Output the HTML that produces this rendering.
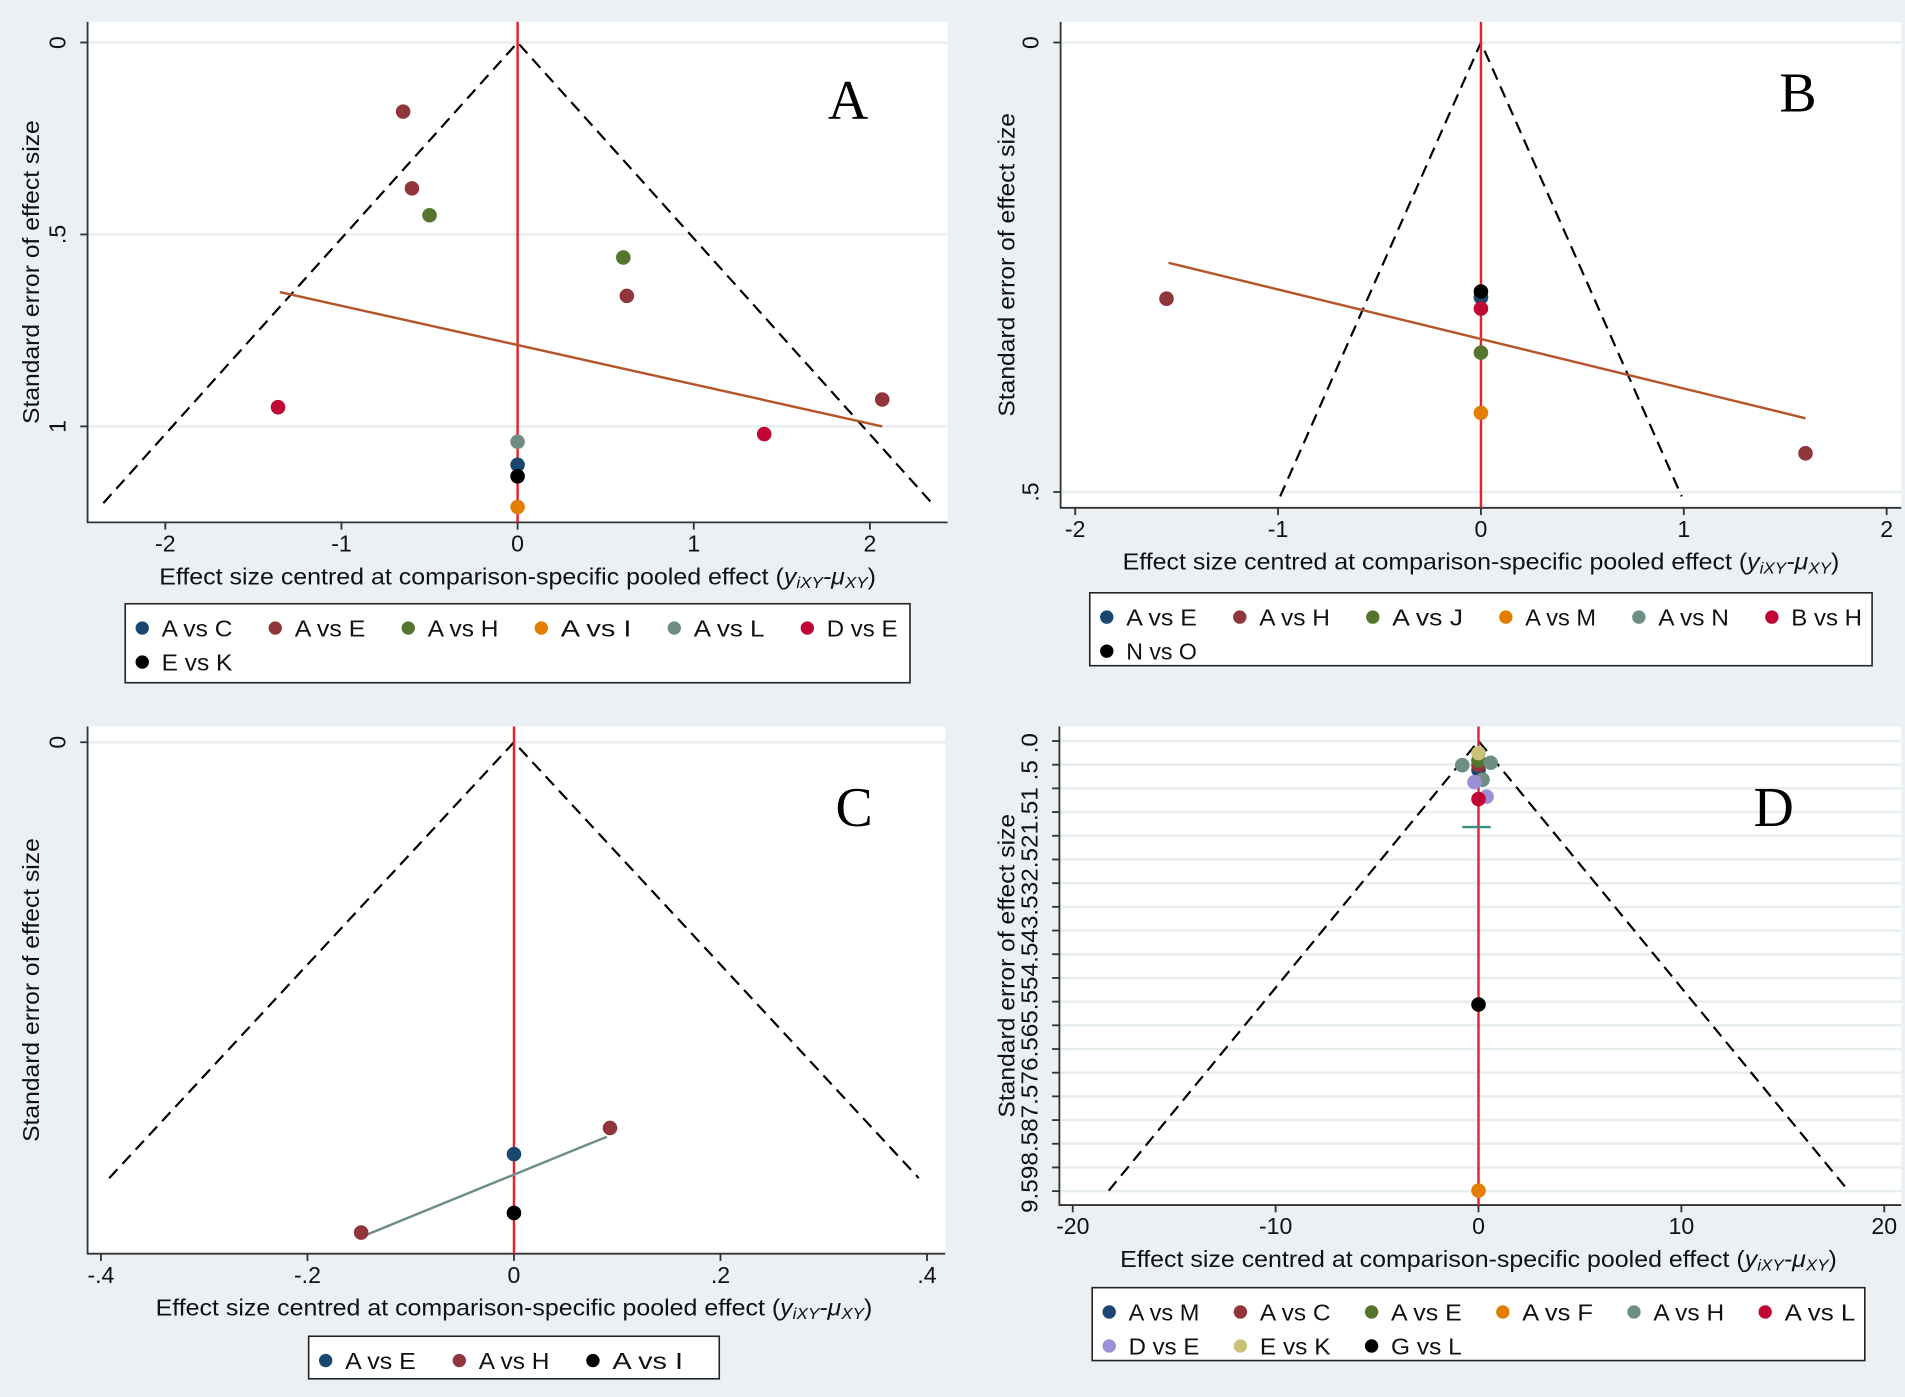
<!DOCTYPE html>
<html><head><meta charset="utf-8"><style>
html,body{margin:0;padding:0;background:#eaf0f3;}
svg{display:block;font-family:"Liberation Sans",Arial,sans-serif;}
</style></head><body>
<svg id="s" width="1905" height="1397" viewBox="0 0 1568 1150" xmlns="http://www.w3.org/2000/svg"></svg>
<script>
// ===== Panel A data =====
const aSeries = ["A vs C","A vs E","A vs H","A vs I","A vs L","D vs E","E vs K"];
const aColors = ["#1a476f","#90353b","#55752f","#e37e00","#6e8e84","#c10534","#000000"];
const aPtSeries = [1,1,1,1,2,2,5,5,4,0,6,3];
const aPtX  = [-0.65,-0.60,0.62,2.07,-0.50,0.60,-1.36,1.40,0,0,0,0];
const aPtSE = [0.18,0.38,0.66,0.93,0.45,0.56,0.95,1.02,1.04,1.10,1.13,1.21];
const aReg = [[-1.35,0.65],[2.07,1.0]];
const aXTicks = [-2,-1,0,1,2];
const aYTicks = [0,0.5,1];
const aYLabels = ["0",".5","1"];
// ===== Panel B data =====
const bSeries = ["A vs E","A vs H","A vs J","A vs M","A vs N","B vs H","N vs O"];
const bColors = ["#1a476f","#90353b","#55752f","#e37e00","#6e8e84","#c10534","#000000"];
const bPtSeries = [1,1,4,0,5,2,3,6];
const bPtX  = [-1.55,1.60,0,0,0,0,0,0];
const bPtSE = [0.285,0.457,0.284,0.283,0.296,0.345,0.412,0.277];
const bReg = [[-1.54,0.245],[1.6,0.418]];
const bXTicks = [-2,-1,0,1,2];
const bYTicks = [0,0.5];
const bYLabels = ["0",".5"];
// ===== Panel C data =====
const cSeries = ["A vs E","A vs H","A vs I"];
const cColors = ["#1a476f","#90353b","#000000"];
const cPtSeries = [0,1,1,2];
const cPtX  = [0,0.093,-0.148,0];
const cPtSE = [0.189,0.177,0.225,0.216];
const cReg = [[-0.148,0.227],[0.09,0.181]];
const cXTicks = [-0.4,-0.2,0,0.2,0.4];
const cXLabels = ["-.4","-.2","0",".2",".4"];
// ===== Panel D data =====
const dSeries = ["A vs M","A vs C","A vs E","A vs F","A vs H","A vs L","D vs E","E vs K","G vs L"];
const dColors = ["#1a476f","#90353b","#55752f","#e37e00","#6e8e84","#c10534","#9c8fd6","#c8c27a","#000000"];
const dPtSeries = [0,1,2,7,4,4,4,6,6,5,8,3];
const dPtX  = [0,0,0,0,-0.8,0.6,0.2,-0.2,0.4,0,0,0];
const dPtSE = [0.6,0.5,0.4,0.25,0.5,0.45,0.8,0.85,1.15,1.2,5.45,9.3];
const dTeal = [[-0.8,1.78],[0.6,1.78]];
const dXTicks = [-20,-10,0,10,20];

const S = document.getElementById('s');
const NS = "http://www.w3.org/2000/svg";
function mk(tag, attrs, parent, text){
  const e = document.createElementNS(NS, tag);
  for (const k in attrs) e.setAttribute(k, attrs[k]);
  if (text !== undefined) e.textContent = text;
  (parent||S).appendChild(e);
  return e;
}

function panel(cfg){
  const g = mk('g', {});
  
  
  const X = v => cfg.x0 + v*cfg.xs;
  const Y = v => cfg.y0 + v*cfg.ys;
  const bg = mk('rect', {x:cfg.L, y:cfg.T, width:cfg.R-cfg.L, height:cfg.B-cfg.T, fill:'#fff'}, g);
  
  
  (cfg.grid||[]).forEach(v=>{
    const l = mk('line', {x1:cfg.L, x2:cfg.R, y1:Y(v), y2:Y(v), stroke:'#e6eef1', 'stroke-width':2}, g);
    
    
  });
  const ax = mk('path', {d:`M${cfg.L} ${cfg.T} V${cfg.B} H${cfg.R}`, stroke:'#333', 'stroke-width':1.5, fill:'none'}, g);
  
  
  cfg.xTicks.forEach((v,i)=>{
    mk('line', {x1:X(v), x2:X(v), y1:cfg.B, y2:cfg.B+6, stroke:'#333', 'stroke-width':1.5}, g);
    const t = mk('text', {x:X(v), y:cfg.B+24, 'text-anchor':'middle', 'font-size':19, fill:'#111'}, g, cfg.xLabels?cfg.xLabels[i]:String(v));
    
    
  });
  (cfg.yTicks||[]).forEach((v,i)=>{
    mk('line', {x1:cfg.L-6, x2:cfg.L, y1:Y(v), y2:Y(v), stroke:'#333', 'stroke-width':1.5}, g);
    if (cfg.yLabels){
      const t = mk('text', {x:cfg.L-18, y:Y(v), 'text-anchor':'middle', 'font-size':19, fill:'#111', transform:`rotate(-90 ${cfg.L-18} ${Y(v)})`}, g, cfg.yLabels[i]);
      
      
    }
  });
  if (cfg.yLabelStr){
    const cx = cfg.L-18, cy = (cfg.T+cfg.B)/2+6;
    const t = mk('text', {x:cx, y:cy, 'text-anchor':'middle', 'font-size':19, fill:'#111', textLength:395, lengthAdjust:'spacingAndGlyphs', transform:`rotate(-90 ${cx} ${cy})`}, g, cfg.yLabelStr);
    
    
  }
  const xt = mk('text', {x:cfg.xtX, y:cfg.B+51, 'text-anchor':'middle', 'font-size':19, fill:'#111', textLength:590, lengthAdjust:'spacingAndGlyphs'}, g);
  
  
  xt.appendChild(document.createTextNode('Effect size centred at comparison-specific pooled effect ('));
  mk('tspan', {'font-style':'italic'}, xt, 'y');
  mk('tspan', {'font-style':'italic','font-size':13, dy:3}, xt, 'iXY');
  mk('tspan', {'font-style':'italic', dy:-3}, xt, '-μ');
  mk('tspan', {'font-style':'italic','font-size':13, dy:3}, xt, 'XY');
  mk('tspan', {dy:-3}, xt, ')');
  const yx = cfg.ytX, yy = (cfg.T+cfg.B)/2;
  const yt = mk('text', {x:yx, y:yy, 'text-anchor':'middle', 'font-size':19, fill:'#111', textLength:250, lengthAdjust:'spacingAndGlyphs', transform:`rotate(-90 ${yx} ${yy})`}, g, 'Standard error of effect size');
  
  
  const fb = cfg.funnelSE, fx = 1.96*fb;
  const fn = mk('path', {d:`M${X(-fx)} ${Y(fb)} L${X(0)} ${Y(0)} L${X(fx)} ${Y(fb)}`, stroke:'#000', 'stroke-width':1.8, fill:'none', 'stroke-dasharray':'10,6'}, g);
  
  
  const zl = mk('line', {x1:X(0), x2:X(0), y1:cfg.T, y2:cfg.B, stroke:'#e8202a', 'stroke-width':2}, g);
  
  
  if (cfg.reg){
    const r = mk('line', {x1:X(cfg.reg[0][0]), y1:Y(cfg.reg[0][1]), x2:X(cfg.reg[1][0]), y2:Y(cfg.reg[1][1]), stroke:cfg.regColor, 'stroke-width':2}, g);
    
    
  }
  cfg.px.forEach((v,i)=>{
    const c = mk('circle', {cx:X(v), cy:Y(cfg.pse[i]), r:6, fill:cfg.colors[cfg.ps[i]]}, g);
    
    
  });
  if (cfg.extra) cfg.extra(g, X, Y);
  const lt = mk('text', {x:cfg.letterX, y:cfg.letterY, 'text-anchor':'middle', 'font-size':46, 'font-family':'"Liberation Serif",serif', fill:'#000'}, g, cfg.letter);
  
  
  const lg = mk('g', {}, g);
  
  
  const lb = cfg.leg;
  mk('rect', {x:lb.x, y:lb.y, width:lb.w, height:lb.h, fill:'#fff', stroke:'#222', 'stroke-width':1.3}, lg);
  cfg.series.forEach((s,i)=>{
    const row = Math.floor(i/lb.per), col = i%lb.per;
    const ex = lb.x+14+col*lb.colW, ey = lb.y+20+row*28;
    const e = mk('g', {}, lg);
    
    
    mk('circle', {cx:ex, cy:ey, r:5.5, fill:cfg.colors[i]}, e);
    mk('text', {x:ex+16, y:ey+7, 'font-size':19, fill:'#111', textLength:s.length*9.7, lengthAdjust:'spacingAndGlyphs'}, e, s);
  });
}

panel({name:'panel-a', letter:'A', letterX:698, letterY:98, L:72, R:780, T:18, B:430,
  x0:426, xs:145, y0:35, ys:316, xTicks:aXTicks, yTicks:aYTicks, yLabels:aYLabels, grid:aYTicks,
  ytX:32, xtX:426, funnelSE:1.2, reg:aReg, regColor:'#b5562a',
  px:aPtX, pse:aPtSE, ps:aPtSeries, series:aSeries, colors:aColors,
  leg:{x:103,y:497,w:646,h:65,per:6,colW:109.5}});
panel({name:'panel-b', letter:'B', letterX:1480, letterY:92, L:873, R:1565, T:18, B:418,
  x0:1219, xs:167, y0:35, ys:740, xTicks:bXTicks, yTicks:bYTicks, yLabels:bYLabels, grid:bYTicks,
  ytX:835, xtX:1219, funnelSE:0.505, reg:bReg, regColor:'#b5562a',
  px:bPtX, pse:bPtSE, ps:bPtSeries, series:bSeries, colors:bColors,
  leg:{x:897,y:488,w:644,h:60,per:6,colW:109.5}});
panel({name:'panel-c', letter:'C', letterX:703, letterY:680, L:72, R:778, T:598, B:1032,
  x0:423, xs:850, y0:611, ys:1794, xTicks:cXTicks, xLabels:cXLabels, yTicks:[0], yLabels:["0"], grid:[0],
  ytX:32, xtX:423, funnelSE:0.2, reg:cReg, regColor:'#6e8e84',
  px:cPtX, pse:cPtSE, ps:cPtSeries, series:cSeries, colors:cColors,
  leg:{x:254,y:1100,w:338,h:35,per:3,colW:110}});
const dTicks = []; for (let i=0;i<20;i++) dTicks.push(i*0.49);
panel({name:'panel-d', letter:'D', letterX:1460, letterY:680, L:872, R:1565, T:598, B:992,
  x0:1217, xs:16.7, y0:610, ys:39.8, xTicks:dXTicks, yTicks:dTicks, grid:dTicks,
  yLabelStr:'9.598.587.576.565.554.543.532.521.51 .5 .0',
  ytX:835, xtX:1217, funnelSE:9.3,
  px:dPtX, pse:dPtSE, ps:dPtSeries, series:dSeries, colors:dColors,
  extra:(g,X,Y)=>{
    const t = mk('line', {x1:X(dTeal[0][0]), y1:Y(dTeal[0][1]), x2:X(dTeal[1][0]), y2:Y(dTeal[1][1]), stroke:'#3f8a7e', 'stroke-width':2}, g);
    
    
  },
  leg:{x:899,y:1060,w:636,h:60,per:6,colW:108}});
</script>
</body></html>
